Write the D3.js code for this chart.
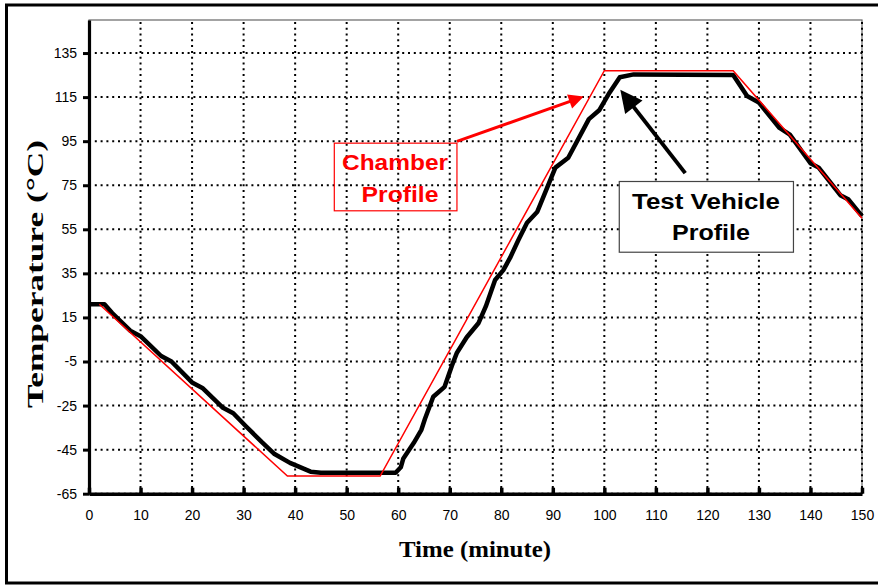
<!DOCTYPE html>
<html>
<head>
<meta charset="utf-8">
<script src="https://cdn.jsdelivr.net/npm/d3@7"></script>
<style>
  body { margin: 0; background: #fff; }
  svg { display: block; }
</style>
</head>
<body>
<div id="chart"></div>
<script>
// data
var vehicleTime = [0, 3, 4.5, 8, 10, 14, 16, 20, 22, 24, 26, 28, 30.5, 33.5, 36, 39, 43, 45, 59.5, 60.5, 61, 63, 64.5, 65.2, 66.8, 69, 70.4, 71.4, 73.3, 75.6, 77, 78.8, 80.4, 81.7, 83.3, 85, 87, 90.5, 93, 97, 99, 101, 103, 105.7, 125, 127.7, 130, 134, 136, 140, 141.6, 145.8, 147.4, 150];
var vehicleTemp = [21, 21, 17, 9, 6.5, -2.5, -5, -14.5, -17, -21.5, -26, -28.5, -34.5, -41.5, -47, -51, -55, -55.5, -55.5, -53, -49, -42, -36, -31, -21, -16.5, -7, -1, 6, 12.5, 20, 32, 36.5, 42, 50, 58, 63, 83, 87.5, 105, 109, 117, 124, 125.3, 125, 115.5, 112.5, 101, 98, 85, 83, 70.5, 68.5, 61];
var chamberTime = [2, 38.5, 56.5, 100, 125, 150];
var chamberTemp = [21, -57, -57, 127, 127, 60];
var xTicks = [0, 10, 20, 30, 40, 50, 60, 70, 80, 90, 100, 110, 120, 130, 140, 150];
var yTicks = [-65, -45, -25, -5, 15, 35, 55, 75, 95, 115, 135];

var W = 878, H = 586;
var plotL = 89, plotR = 862, plotT = 20, plotB = 493.7;

var svg = d3.select("#chart")
  .append("svg")
    .attr("width", W)
    .attr("height", H);

// outer frame
svg.append("rect")
  .attr("x", 6.5).attr("y", 5)
  .attr("width", 880).attr("height", 578)
  .attr("fill", "#fff")
  .attr("stroke", "#000")
  .attr("stroke-width", 3);

var x = d3.scaleLinear().domain([0, 150]).range([plotL, plotR]);
var y = d3.scaleLinear().domain([-65, 150]).range([plotB, plotT]);

// plot border (top / right thin grey)
svg.append("rect")
  .attr("x", plotL).attr("y", plotT)
  .attr("width", plotR - plotL).attr("height", plotB - plotT)
  .attr("fill", "none")
  .attr("stroke", "#666")
  .attr("stroke-width", 1.2);

// dotted grid
svg.append("g")
  .selectAll("line")
  .data(yTicks)
  .enter().append("line")
    .attr("x1", plotL).attr("x2", plotR)
    .attr("y1", function(d) { return y(d); })
    .attr("y2", function(d) { return y(d); })
    .attr("stroke", "#000")
    .attr("stroke-width", 2)
    .attr("stroke-dasharray", "2,3.8");

svg.append("g")
  .selectAll("line")
  .data(xTicks.slice(1))
  .enter().append("line")
    .attr("y1", plotB).attr("y2", plotT)
    .attr("x1", function(d) { return x(d); })
    .attr("x2", function(d) { return x(d); })
    .attr("stroke", "#000")
    .attr("stroke-width", 2)
    .attr("stroke-dasharray", "2,3.8");

// plain hyphen for negatives, like the original
var plain = function(d) { return String(d); };

// Y axis
var yAxis = svg.append("g")
  .attr("transform", "translate(" + plotL + ",0)")
  .call(d3.axisLeft(y).tickValues(yTicks).tickFormat(plain).tickSize(6).tickSizeOuter(0).tickPadding(6))
  .attr("font-family", "'Liberation Sans', Arial, sans-serif")
  .attr("font-size", 14);
yAxis.select(".domain").attr("stroke-width", 3.2);
yAxis.selectAll(".tick line").attr("stroke-width", 3);
yAxis.selectAll(".tick text").attr("fill", "#000");

// X axis (ticks point inward)
var xAxis = svg.append("g")
  .attr("transform", "translate(0," + plotB + ")")
  .call(d3.axisBottom(x).tickValues(xTicks).tickFormat(plain).tickSizeInner(-6).tickSizeOuter(0).tickPadding(16))
  .attr("font-family", "'Liberation Sans', Arial, sans-serif")
  .attr("font-size", 14);
xAxis.select(".domain").attr("stroke-width", 3.5);
xAxis.selectAll(".tick line").attr("stroke-width", 3.5);
xAxis.selectAll(".tick text").attr("fill", "#000");

// axis titles
svg.append("text")
  .attr("transform", "translate(43,274) rotate(-90)")
  .attr("text-anchor", "middle")
  .attr("textLength", 268)
  .attr("lengthAdjust", "spacingAndGlyphs")
  .style("font-family", "'Liberation Serif', 'Times New Roman', serif")
  .style("font-weight", "bold")
  .style("font-size", "23px")
  .text("Temperature (°C)");

svg.append("text")
  .attr("x", 475).attr("y", 557)
  .attr("text-anchor", "middle")
  .attr("textLength", 152)
  .attr("lengthAdjust", "spacingAndGlyphs")
  .style("font-family", "'Liberation Serif', 'Times New Roman', serif")
  .style("font-weight", "bold")
  .style("font-size", "23px")
  .text("Time (minute)");

// lines
var chamber = chamberTime.map(function(t, i) { return [t, chamberTemp[i]]; });
var vehicle = vehicleTime.map(function(t, i) { return [t, vehicleTemp[i]]; });
var line = d3.line()
  .x(function(d) { return x(d[0]); })
  .y(function(d) { return y(d[1]); });

svg.append("path")
  .datum(vehicle)
  .attr("d", line)
  .attr("fill", "none")
  .attr("stroke", "#000")
  .attr("stroke-width", 4.5)
  .attr("stroke-linejoin", "round");

svg.append("path")
  .datum(chamber)
  .attr("d", line)
  .attr("fill", "none")
  .attr("stroke", "#ff0000")
  .attr("stroke-width", 1.5);

// arrow helper: shaft + triangular head
function arrow(x1, y1, x2, y2, color, width, len, half) {
  var dx = x2 - x1, dy = y2 - y1;
  var d = Math.sqrt(dx * dx + dy * dy);
  var ux = dx / d, uy = dy / d;
  var bx = x2 - ux * len, by = y2 - uy * len;
  svg.append("line")
    .attr("x1", x1).attr("y1", y1)
    .attr("x2", bx + ux * 2).attr("y2", by + uy * 2)
    .attr("stroke", color)
    .attr("stroke-width", width);
  svg.append("polygon")
    .attr("points", [
      [x2, y2],
      [bx - uy * half, by + ux * half],
      [bx + uy * half, by - ux * half]
    ].join(" "))
    .attr("fill", color);
}

// Chamber Profile annotation
svg.append("rect")
  .attr("x", x(47.6)).attr("y", y(94.1))
  .attr("width", x(71.4) - x(47.6)).attr("height", y(63.4) - y(94.1))
  .attr("fill", "none")
  .attr("stroke", "#ff0000")
  .attr("stroke-width", 1.2);
svg.append("text")
  .attr("x", 395).attr("y", 169.5)
  .attr("text-anchor", "middle")
  .attr("textLength", 106)
  .attr("lengthAdjust", "spacingAndGlyphs")
  .style("font-family", "'Liberation Sans', Arial, sans-serif")
  .style("font-weight", "bold")
  .style("font-size", "22px")
  .attr("fill", "#ff0000")
  .text("Chamber");
svg.append("text")
  .attr("x", 400).attr("y", 201.5)
  .attr("text-anchor", "middle")
  .attr("textLength", 77)
  .attr("lengthAdjust", "spacingAndGlyphs")
  .style("font-family", "'Liberation Sans', Arial, sans-serif")
  .style("font-weight", "bold")
  .style("font-size", "22px")
  .attr("fill", "#ff0000")
  .text("Profile");
arrow(x(71.4), y(94.9), x(96), y(115.3), "#ff0000", 3, 15, 7.5);

// Test Vehicle Profile annotation
svg.append("rect")
  .attr("x", x(102.9)).attr("y", y(76.7))
  .attr("width", x(136.7) - x(102.9)).attr("height", y(44.6) - y(76.7))
  .attr("fill", "#fff")
  .attr("stroke", "#444")
  .attr("stroke-width", 1.2);
svg.append("text")
  .attr("x", 706).attr("y", 209)
  .attr("text-anchor", "middle")
  .attr("textLength", 148)
  .attr("lengthAdjust", "spacingAndGlyphs")
  .style("font-family", "'Liberation Sans', Arial, sans-serif")
  .style("font-weight", "bold")
  .style("font-size", "22.5px")
  .attr("fill", "#000")
  .text("Test Vehicle");
svg.append("text")
  .attr("x", 711).attr("y", 240)
  .attr("text-anchor", "middle")
  .attr("textLength", 78)
  .attr("lengthAdjust", "spacingAndGlyphs")
  .style("font-family", "'Liberation Sans', Arial, sans-serif")
  .style("font-weight", "bold")
  .style("font-size", "22.5px")
  .attr("fill", "#000")
  .text("Profile");
arrow(x(115.7), y(80.5), x(103.1), y(118.3), "#000", 4, 22, 11);
</script>
</body>
</html>
